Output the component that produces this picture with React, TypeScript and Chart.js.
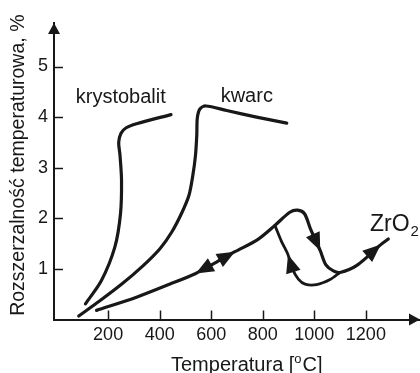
import React, { useEffect, useRef } from 'react';
import { Chart, registerables } from 'chart.js';

Chart.register(...registerables);

// ---- data ----
const xTickValues = [200, 400, 600, 800, 1000, 1200];
const yTickValues = [1, 2, 3, 4, 5];

const krystobalitX = [112, 174, 226, 248, 252, 246, 241, 250, 270, 310, 444];
const krystobalitY = [0.31, 0.77, 1.43, 2.09, 2.75, 3.25, 3.5, 3.68, 3.79, 3.87, 4.05];

const kwarcX = [86, 168, 253, 335, 401, 447, 486, 514, 529, 539, 544, 546, 556, 579, 660, 776, 893];
const kwarcY = [0.07, 0.37, 0.7, 1.06, 1.4, 1.73, 2.11, 2.46, 2.86, 3.25, 3.65, 3.98, 4.16, 4.22, 4.13, 4.0, 3.88];

const zrMainX = [155, 310, 440, 540, 615, 692, 780, 847, 905, 935, 962, 985, 1023, 1045, 1074, 1100, 1165, 1258, 1287];
const zrMainY = [0.18, 0.44, 0.7, 0.91, 1.12, 1.34, 1.58, 1.86, 2.12, 2.16, 2.09, 1.79, 1.36, 1.08, 0.96, 0.93, 1.07, 1.48, 1.59];

const zrLoopX = [847, 872, 898, 915, 938, 964, 1009, 1061, 1100];
const zrLoopY = [1.86, 1.55, 1.28, 1.0, 0.8, 0.7, 0.69, 0.79, 0.93];

// arrowheads on ZrO2 curves: dataset index, point index, direction (+1 = travel toward higher index)
const arrowDataset = [2, 2, 2, 2, 3];
const arrowIndex = [3, 5, 12, 17, 2];
const arrowDir = [-1, 1, 1, 1, -1];

const yTitle = 'Rozszerzalność temperaturowa, %';

const FONT = '"Liberation Sans", Arial, Helvetica, sans-serif';
const INK = '#181818';

const toPts = (xs: number[], ys: number[]) => xs.map((x, i) => ({ x, y: ys[i] }));

function drawTri(ctx: CanvasRenderingContext2D, tx: number, ty: number, ux: number, uy: number, len: number, half: number) {
  const bx = tx - ux * len;
  const by = ty - uy * len;
  const nx = -uy;
  const ny = ux;
  ctx.beginPath();
  ctx.moveTo(tx, ty);
  ctx.lineTo(bx + nx * half, by + ny * half);
  ctx.lineTo(bx - nx * half, by - ny * half);
  ctx.closePath();
  ctx.fill();
}

const decorPlugin = {
  id: 'decor',
  beforeDraw(chart: any) {
    const { ctx, width, height } = chart;
    ctx.save();
    ctx.fillStyle = '#ffffff';
    ctx.fillRect(0, 0, width, height);
    ctx.restore();
  },
  afterDraw(chart: any) {
    const { ctx, chartArea } = chart;
    const xs = chart.scales.x;
    const ys = chart.scales.y;
    ctx.save();
    ctx.strokeStyle = INK;
    ctx.fillStyle = INK;
    ctx.lineWidth = 1.5;
    // inward tick marks
    xTickValues.forEach((v) => {
      const px = Math.round(xs.getPixelForValue(v)) + 0.5;
      ctx.beginPath();
      ctx.moveTo(px, chartArea.bottom);
      ctx.lineTo(px, chartArea.bottom - 9);
      ctx.stroke();
    });
    yTickValues.forEach((v) => {
      const py = Math.round(ys.getPixelForValue(v)) + 0.5;
      ctx.beginPath();
      ctx.moveTo(chartArea.left, py);
      ctx.lineTo(chartArea.left + 9, py);
      ctx.stroke();
    });
    // axis arrows
    drawTri(ctx, chartArea.left, chartArea.top, 0, -1, 11, 6);
    drawTri(ctx, chartArea.right, chartArea.bottom, 1, 0, 11, 6);

    // arrowheads on curves
    arrowDataset.forEach((di, k) => {
      const pts = chart.getDatasetMeta(di).data;
      const i = arrowIndex[k];
      const p = pts[i];
      const back = pts[i - arrowDir[k]];
      const ux = p.x - back.x;
      const uy = p.y - back.y;
      const d = Math.hypot(ux, uy) || 1;
      drawTri(ctx, p.x, p.y, ux / d, uy / d, 18, 7.5);
    });

    // curve labels
    ctx.textBaseline = 'alphabetic';
    ctx.font = `20px ${FONT}`;
    ctx.textAlign = 'center';
    ctx.fillText('krystobalit', xs.getPixelForValue(249), ys.getPixelForValue(4.27));
    ctx.fillText('kwarc', xs.getPixelForValue(738), ys.getPixelForValue(4.29));
    ctx.textAlign = 'left';
    ctx.font = `23px ${FONT}`;
    const zx = xs.getPixelForValue(1216);
    const zy = ys.getPixelForValue(1.74);
    ctx.fillText('ZrO', zx, zy);
    const zw = ctx.measureText('ZrO').width;
    ctx.font = `15px ${FONT}`;
    ctx.fillText('2', zx + zw + 1, zy + 5);

    // y axis title
    ctx.save();
    ctx.font = `19.5px ${FONT}`;
    ctx.textAlign = 'center';
    ctx.textBaseline = 'middle';
    ctx.translate(ys.left + 19, ys.getPixelForValue(3.05));
    ctx.rotate(-Math.PI / 2);
    ctx.fillText(yTitle, 0, 0);
    ctx.restore();

    // x axis title with superscript o
    const big = `20px ${FONT}`;
    const small = `13px ${FONT}`;
    const t1 = 'Temperatura [';
    const t2 = 'o';
    const t3 = 'C]';
    ctx.textAlign = 'left';
    ctx.font = big;
    const w1 = ctx.measureText(t1).width;
    const w3 = ctx.measureText(t3).width;
    ctx.font = small;
    const w2 = ctx.measureText(t2).width;
    const total = w1 + w2 + 1 + w3;
    const cx = xs.getPixelForValue(738);
    const by = xs.bottom - 2;
    let sx = cx - total / 2;
    ctx.font = big;
    ctx.fillText(t1, sx, by);
    sx += w1;
    ctx.font = small;
    ctx.fillText(t2, sx, by - 8);
    sx += w2 + 1;
    ctx.font = big;
    ctx.fillText(t3, sx, by);
    ctx.restore();
  },
};

export default function App() {
  const ref = useRef<HTMLCanvasElement>(null);
  useEffect(() => {
    document.body.style.margin = '0';
    const lineStyle = {
      borderColor: INK,
      backgroundColor: INK,
      borderWidth: 3.2,
      pointRadius: 0,
      pointHoverRadius: 0,
      showLine: true,
      fill: false,
      tension: 0.3,
      borderCapStyle: 'round' as const,
      borderJoinStyle: 'round' as const,
    };
    const chart = new Chart(ref.current!, {
      type: 'scatter',
      data: {
        datasets: [
          { label: 'krystobalit', data: toPts(krystobalitX, krystobalitY), ...lineStyle },
          { label: 'kwarc', data: toPts(kwarcX, kwarcY), ...lineStyle },
          { label: 'ZrO2', data: toPts(zrMainX, zrMainY), ...lineStyle },
          { label: 'ZrO2 loop', data: toPts(zrLoopX, zrLoopY), ...lineStyle, borderWidth: 2.8 },
        ],
      },
      options: {
        responsive: false,
        animation: false,
        devicePixelRatio: 1,
        layout: { padding: { top: 23, right: 0, bottom: 0, left: 0 } },
        plugins: { legend: { display: false }, tooltip: { enabled: false } },
        events: [],
        scales: {
          x: {
            type: 'linear',
            position: 'bottom',
            min: -10,
            max: 1410,
            afterBuildTicks: (s: any) => {
              s.ticks = xTickValues.map((v) => ({ value: v }));
            },
            afterFit: (s: any) => {
              s.height = 53.5;
            },
            grid: { display: false, drawTicks: false },
            border: { display: true, color: INK, width: 2 },
            ticks: {
              autoSkip: false,
              maxRotation: 0,
              padding: 5,
              color: INK,
              font: { family: FONT, size: 18 },
              callback: (v: any) => String(v),
            },
          },
          y: {
            type: 'linear',
            min: 0,
            max: 5.86,
            afterBuildTicks: (s: any) => {
              s.ticks = yTickValues.map((v) => ({ value: v }));
            },
            afterFit: (s: any) => {
              s.width = 54;
            },
            grid: { display: false, drawTicks: false },
            border: { display: true, color: INK, width: 2 },
            ticks: {
              autoSkip: false,
              padding: 6,
              color: INK,
              font: { family: FONT, size: 18 },
              callback: (v: any) => String(v),
            },
          },
        },
      },
      plugins: [decorPlugin],
    });
    return () => chart.destroy();
  }, []);
  return (
    <div style={{ width: 420, height: 373, position: 'relative' }}>
      <canvas ref={ref} width={420} height={373} />
    </div>
  );
}
